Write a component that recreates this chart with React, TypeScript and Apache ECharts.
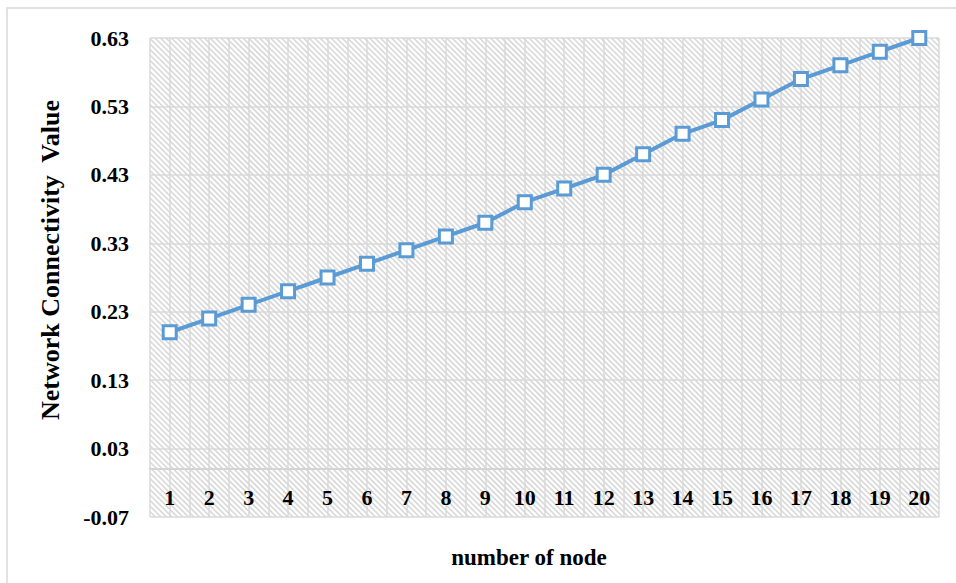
import React, { useEffect, useRef } from "react";
import * as echarts from "echarts";

// Node counts along the horizontal axis
const nodes = [1, 2, 3, 4, 5, 6, 7, 8, 9, 10, 11, 12, 13, 14, 15, 16, 17, 18, 19, 20];
// Network connectivity value for each node count
const connectivity = [
  0.2, 0.22, 0.24, 0.26, 0.28, 0.3, 0.32, 0.34, 0.36, 0.39,
  0.41, 0.43, 0.46, 0.49, 0.51, 0.54, 0.57, 0.59, 0.61, 0.63,
];
// Value-axis tick labels, bottom to top
const yTickLabels = ["-0.07", "0.03", "0.13", "0.23", "0.33", "0.43", "0.53", "0.63"];

const FONT = "'Liberation Serif', 'Times New Roman', serif";
const GRID_COLOR = "#dadada";
const BLUE = "#5b9bd5";

export default function App() {
  const ref = useRef<HTMLDivElement>(null);

  useEffect(() => {
    if (!ref.current) return;
    const chart = echarts.init(ref.current, null, { renderer: "svg" });

    const yMin = Number(yTickLabels[0]);
    const yMax = Number(yTickLabels[yTickLabels.length - 1]);
    const yStep = 0.1;

    // Diagonal hatching that fills the plot area
    const hatchItem = (params: any) => {
      const cs = params.coordSys;
      const x0 = cs.x, y0 = cs.y, w = cs.width, h = cs.height;
      const step = 5.5;
      const children: any[] = [];
      for (let c = -h; c < w; c += step) {
        // line: x = x0 + c + t, y = y0 + t
        const tStart = Math.max(0, -c);
        const tEnd = Math.min(h, w - c);
        if (tEnd <= tStart) continue;
        children.push({
          type: "line",
          shape: { x1: x0 + c + tStart, y1: y0 + tStart, x2: x0 + c + tEnd, y2: y0 + tEnd },
          style: { stroke: "#d8d8d8", lineWidth: 1.6 },
          silent: true,
        });
      }
      return { type: "group", children };
    };

    chart.setOption({
      animation: false,
      backgroundColor: "#ffffff",
      grid: { left: 150, top: 38, right: 17, bottom: 66, containLabel: false },
      xAxis: {
        type: "value",
        min: 0.5,
        max: 20.5,
        interval: 0.5,
        axisLine: { show: true, onZero: true, onZeroAxisIndex: 0, lineStyle: { color: "#d4d4d4", width: 2 } },
        axisTick: { show: false },
        splitLine: { show: true, lineStyle: { color: GRID_COLOR, width: 1.5 } },
        axisLabel: {
          inside: true,
          margin: 9,
          fontFamily: FONT,
          fontWeight: "bold",
          fontSize: 22,
          color: "#000",
          showMinLabel: false,
          showMaxLabel: false,
          formatter: (v: number) => (Math.abs(v - Math.round(v)) < 1e-6 ? String(Math.round(v)) : ""),
        },
      },
      yAxis: [
        {
          // data axis
          type: "value",
          min: yMin,
          max: yMax,
          axisLine: { show: false },
          axisTick: { show: false },
          axisLabel: { show: false },
          splitLine: { show: false },
        },
        {
          // tick / grid axis, counted from the lowest tick
          type: "value",
          min: 0,
          max: Math.round((yMax - yMin) * 100) / 100,
          interval: yStep,
          position: "left",
          axisLine: { show: false },
          axisTick: { show: false },
          splitLine: { show: true, lineStyle: { color: GRID_COLOR, width: 1.5 } },
          axisLabel: {
            margin: 21,
            fontFamily: FONT,
            fontWeight: "bold",
            fontSize: 22,
            color: "#000",
            formatter: (v: number) => yTickLabels[Math.round(v / yStep)] ?? "",
          },
        },
      ],
      graphic: [
        {
          type: "rect",
          shape: { x: 7, y: 8, width: 980, height: 620 },
          style: { fill: "none", stroke: "#d9d9d9", lineWidth: 1.5 },
          silent: true,
          z: -10,
        },
        {
          type: "text",
          x: 50,
          y: 260,
          rotation: Math.PI / 2,
          style: {
            text: "Network Connectivity  Value",
            font: `bold 26px ${FONT}`,
            fill: "#000",
            align: "center",
            verticalAlign: "middle",
          },
        },
        {
          type: "text",
          x: 529,
          y: 557,
          style: {
            text: "number of node",
            font: `bold 23px ${FONT}`,
            fill: "#000",
            align: "center",
            verticalAlign: "middle",
          },
        },
      ],
      series: [
        {
          type: "custom",
          renderItem: hatchItem,
          data: [0],
          silent: true,
          z: 0,
        },
        {
          type: "line",
          yAxisIndex: 0,
          data: nodes.map((n, i) => [n, connectivity[i]]),
          symbol: "rect",
          symbolSize: 13,
          lineStyle: { color: BLUE, width: 4 },
          itemStyle: { color: "#ffffff", borderColor: BLUE, borderWidth: 3 },
          z: 5,
        },
      ],
    });

    return () => chart.dispose();
  }, []);

  return (
    <div
      ref={ref}
      style={{ position: "fixed", left: 0, top: 0, width: 956, height: 583 }}
    />
  );
}
